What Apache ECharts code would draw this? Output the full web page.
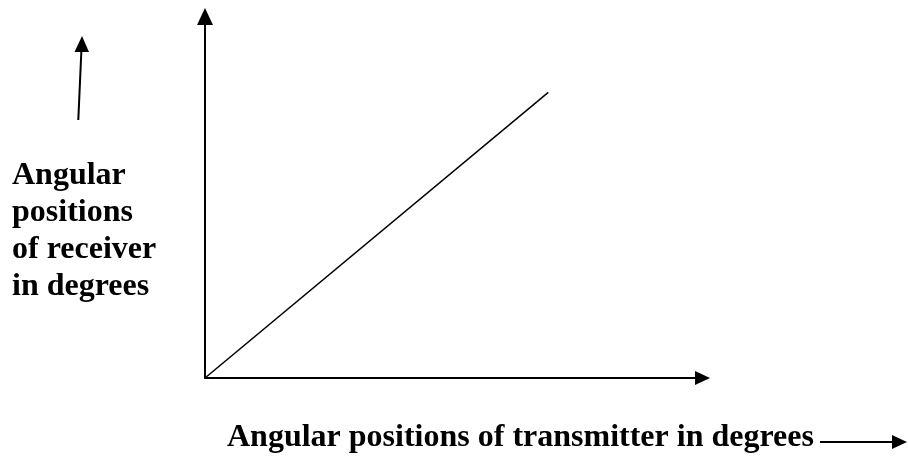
<!DOCTYPE html>
<html>
<head>
<meta charset="utf-8">
<script src="https://cdn.jsdelivr.net/npm/echarts@6/dist/echarts.min.js"></script>
<style>
  html, body { margin: 0; padding: 0; background: #fff; }
  #main { width: 908px; height: 459px; }
</style>
</head>
<body>
<div id="main"></div>
<script>
// transmitter angle vs receiver angle (relative units, axes 0..100)
var transmitterDeg = [0, 69];
var receiverDeg = [0, 79];
var yLabelLines = ['Angular', 'positions', 'of receiver', 'in degrees'];
var xLabel = 'Angular positions of transmitter in degrees';

var font = '"Liberation Serif", "Times New Roman", serif';

var points = transmitterDeg.map(function (t, i) { return [t, receiverDeg[i]]; });

var graphics = yLabelLines.map(function (s, i) {
    return {
        type: 'text', left: 12, top: 176 + i * 37 - 16,
        style: { text: s, font: 'bold 32px ' + font, fill: '#000' }
    };
});
graphics.push({
    type: 'text', left: 227, top: 438 - 16,
    style: { text: xLabel, font: 'bold 32px ' + font, fill: '#000' }
});
// little arrow beside the y label
graphics.push({ type: 'line', shape: { x1: 78.3, y1: 120, x2: 81.4, y2: 50 }, style: { stroke: '#000', lineWidth: 2 } });
graphics.push({ type: 'polygon', shape: { points: [[82, 36], [74.5, 52], [89, 52]] }, style: { fill: '#000' } });
// little arrow after the x label
graphics.push({ type: 'line', shape: { x1: 820, y1: 442, x2: 895, y2: 442 }, style: { stroke: '#000', lineWidth: 2 } });
graphics.push({ type: 'polygon', shape: { points: [[907, 442], [892, 435], [892, 449]] }, style: { fill: '#000' } });

var myChart = echarts.init(document.getElementById('main'));
option = {
    animation: false,
    grid: { left: 205, right: 205.5, top: 16.5, bottom: 81 },
    xAxis: {
        type: 'value', min: 0, max: 100,
        axisLine: { show: true, symbol: ['none', 'triangle'], symbolSize: [14, 15],
            lineStyle: { color: '#000', width: 2 } },
        axisTick: { show: false }, axisLabel: { show: false }, splitLine: { show: false }
    },
    yAxis: {
        type: 'value', min: 0, max: 100,
        axisLine: { show: true, symbol: ['none', 'triangle'], symbolSize: [16, 17],
            lineStyle: { color: '#000', width: 2 } },
        axisTick: { show: false }, axisLabel: { show: false }, splitLine: { show: false }
    },
    graphic: graphics,
    series: [{
        type: 'line',
        data: points,
        showSymbol: false,
        lineStyle: { color: '#000', width: 1.5 }
    }]
};
myChart.setOption(option);
</script>
</body>
</html>
